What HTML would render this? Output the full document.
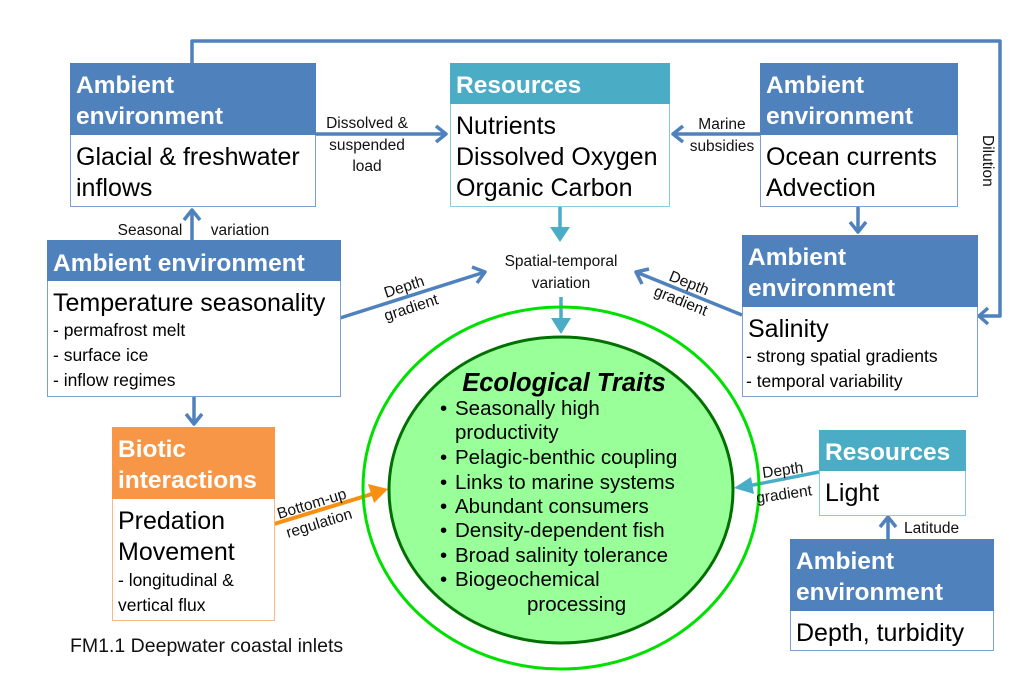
<!DOCTYPE html>
<html><head><meta charset="utf-8"><style>
html,body{margin:0;padding:0;background:#fff}
svg{display:block}
.h{font-family:"Liberation Sans",sans-serif;font-weight:bold;font-size:24.5px;fill:#fff}
.b{font-family:"Liberation Sans",sans-serif;font-size:25px;fill:#000}
.l{font-family:"Liberation Sans",sans-serif;font-size:15.5px;fill:#111}
.t{font-family:"Liberation Sans",sans-serif;font-size:17.5px;fill:#000}
.u{font-family:"Liberation Sans",sans-serif;font-size:20.5px;fill:#000}
</style></head><body>
<svg width="1011" height="700" viewBox="0 0 1011 700" xmlns="http://www.w3.org/2000/svg">
<g fill="none" stroke="#4f81bd" stroke-width="3.5" stroke-linejoin="round">
<polyline points="192,63 192,41 1000,41 1000,316 980,316"/>
<polyline points="988,308 979,316 988,324"/>
<line x1="315" y1="134" x2="446" y2="134"/><polyline points="436,126 446,134 436,142"/>
<line x1="760" y1="134" x2="673" y2="134"/><polyline points="683,126 673,134 683,142"/>
<line x1="858" y1="207" x2="858" y2="232"/><polyline points="850,222 858,232 866,222"/>
<line x1="192" y1="240" x2="192" y2="210"/><polyline points="184,220 192,210 200,220"/>
<line x1="194" y1="396" x2="194" y2="424"/><polyline points="186,414 194,424 202,414"/>
<line x1="340" y1="318" x2="485" y2="272"/><polyline points="472,267 485,272 477,283"/>
<line x1="742" y1="315" x2="636" y2="272"/><polyline points="642,284 636,272 649,269"/>
<line x1="888" y1="539" x2="888" y2="518"/><polyline points="880,527 888,517 896,527"/>
</g>
<g stroke="#4bacc6" stroke-width="3.5" fill="#4bacc6">
<line x1="560" y1="207" x2="560" y2="228"/><polygon points="550,227 570,227 560,242" stroke="none"/>
<line x1="561" y1="297" x2="561" y2="320"/><polygon points="551,318 571,318 561,334" stroke="none"/>
<line x1="819" y1="472" x2="748" y2="486"/><polygon points="734,488 751,477 754,494" stroke="none"/>
</g>
<g stroke="#f79010" stroke-width="4" fill="#f79010">
<line x1="274" y1="524" x2="372" y2="494"/><polygon points="388,489 368,484 374,503" stroke="none"/>
</g>
<ellipse cx="561" cy="488" rx="198" ry="181" fill="none" stroke="#00e000" stroke-width="3"/>
<ellipse cx="561" cy="490" rx="172" ry="153" fill="#99ff99" stroke="#007000" stroke-width="3"/>

<rect x="70.5" y="63.5" width="245" height="143" fill="#fff" stroke="#7ba0d0"/><rect x="70" y="63" width="246" height="72" fill="#4f81bd"/>
<text class="h" x="76" y="93">Ambient</text><text class="h" x="76" y="124">environment</text>
<text class="b" x="76" y="165">Glacial &amp; freshwater</text><text class="b" x="76" y="196">inflows</text>

<rect x="47.5" y="240.5" width="293" height="156" fill="#fff" stroke="#7ba0d0"/><rect x="47" y="240" width="294" height="41" fill="#4f81bd"/>
<text class="h" x="53" y="271">Ambient environment</text>
<text class="b" x="53" y="311">Temperature seasonality</text>
<text class="t" x="53" y="336">- permafrost melt</text><text class="t" x="53" y="361">- surface ice</text><text class="t" x="53" y="386">- inflow regimes</text>

<rect x="450.5" y="63.5" width="219" height="143" fill="#fff" stroke="#8ccbdc"/><rect x="450" y="63" width="220" height="41" fill="#4bacc6"/>
<text class="h" x="456" y="93">Resources</text>
<text class="b" x="456" y="134">Nutrients</text><text class="b" x="456" y="165">Dissolved Oxygen</text><text class="b" x="456" y="196">Organic Carbon</text>

<rect x="760.5" y="63.5" width="197" height="143" fill="#fff" stroke="#7ba0d0"/><rect x="760" y="63" width="198" height="72" fill="#4f81bd"/>
<text class="h" x="766" y="93">Ambient</text><text class="h" x="766" y="124">environment</text>
<text class="b" x="766" y="165">Ocean currents</text><text class="b" x="766" y="196">Advection</text>

<rect x="742.5" y="235.5" width="235" height="161" fill="#fff" stroke="#7ba0d0"/><rect x="742" y="235" width="236" height="72" fill="#4f81bd"/>
<text class="h" x="748" y="265">Ambient</text><text class="h" x="748" y="296">environment</text>
<text class="b" x="748" y="337">Salinity</text>
<text class="t" x="746" y="362">- strong spatial gradients</text><text class="t" x="746" y="387">- temporal variability</text>

<rect x="112.5" y="427.5" width="162" height="193" fill="#fff" stroke="#f9b880"/><rect x="112" y="427" width="163" height="72" fill="#f79646"/>
<text class="h" x="118" y="457">Biotic</text><text class="h" x="118" y="488">interactions</text>
<text class="b" x="118" y="529">Predation</text><text class="b" x="118" y="560">Movement</text>
<text class="t" x="118" y="586">- longitudinal &amp;</text><text class="t" x="118" y="611">vertical flux</text>

<rect x="819.5" y="430.5" width="146" height="85" fill="#fff" stroke="#8ccbdc"/><rect x="819" y="430" width="147" height="41" fill="#4bacc6"/>
<text class="h" x="825" y="460">Resources</text><text class="b" x="825" y="501">Light</text>

<rect x="790.5" y="539.5" width="203" height="111" fill="#fff" stroke="#7ba0d0"/><rect x="790" y="539" width="204" height="72" fill="#4f81bd"/>
<text class="h" x="796" y="569">Ambient</text><text class="h" x="796" y="600">environment</text>
<text class="b" x="796" y="641">Depth, turbidity</text>

<text class="l" x="367" y="128" text-anchor="middle">Dissolved &amp;</text>
<text class="l" x="367" y="150" text-anchor="middle">suspended</text>
<text class="l" x="367" y="171" text-anchor="middle">load</text>
<text class="l" x="722" y="129" text-anchor="middle">Marine</text>
<text class="l" x="722" y="151" text-anchor="middle">subsidies</text>
<text class="l" x="150" y="235" text-anchor="middle">Seasonal</text>
<text class="l" x="240" y="235" text-anchor="middle">variation</text>
<text class="l" transform="translate(983,135) rotate(90)">Dilution</text>
<text class="l" x="561" y="266" text-anchor="middle">Spatial-temporal</text>
<text class="l" x="561" y="288" text-anchor="middle">variation</text>
<text class="l" transform="translate(386,298) rotate(-18)">Depth</text>
<text class="l" transform="translate(386,321) rotate(-18)">gradient</text>
<text class="l" transform="translate(668,280) rotate(22)">Depth</text>
<text class="l" transform="translate(653,295) rotate(22)">gradient</text>
<text class="l" transform="translate(763,478) rotate(-8)">Depth</text>
<text class="l" transform="translate(757,503) rotate(-8)">gradient</text>
<text class="l" x="904" y="533">Latitude</text>
<text class="l" transform="translate(279,519) rotate(-17)">Bottom-up</text>
<text class="l" transform="translate(288,538) rotate(-17)">regulation</text>
<text x="70" y="652" style="font-family:'Liberation Sans',sans-serif;font-size:19.5px;fill:#111">FM1.1 Deepwater coastal inlets</text>

<text x="564" y="391" text-anchor="middle" style="font-family:'Liberation Sans',sans-serif;font-size:25.5px;font-weight:bold;font-style:italic">Ecological Traits</text>
<text class="u" x="440" y="415">•</text><text class="u" x="455" y="415">Seasonally high</text>
<text class="u" x="455" y="439">productivity</text>
<text class="u" x="440" y="464">•</text><text class="u" x="455" y="464">Pelagic-benthic coupling</text>
<text class="u" x="440" y="489">•</text><text class="u" x="455" y="489">Links to marine systems</text>
<text class="u" x="440" y="513">•</text><text class="u" x="455" y="513">Abundant consumers</text>
<text class="u" x="440" y="537">•</text><text class="u" x="455" y="537">Density-dependent fish</text>
<text class="u" x="440" y="562">•</text><text class="u" x="455" y="562">Broad salinity tolerance</text>
<text class="u" x="440" y="586">•</text><text class="u" x="455" y="586">Biogeochemical</text>
<text class="u" x="527" y="611">processing</text>
</svg>
</body></html>
